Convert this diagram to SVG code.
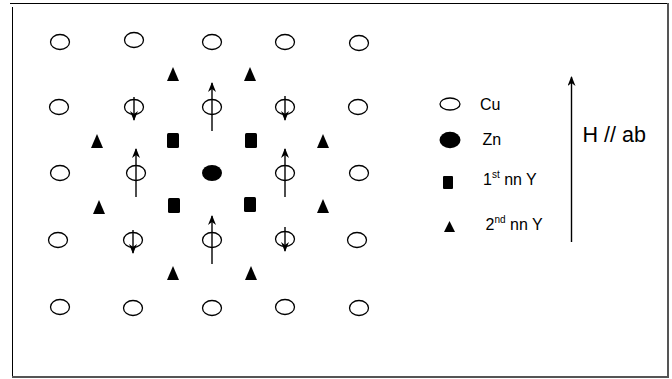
<svg xmlns="http://www.w3.org/2000/svg" width="672" height="379" viewBox="0 0 672 379">
<defs>
<style>
.cu{fill:#fff;stroke:#000;stroke-width:1.3}
.zn{fill:#000}
.sq{fill:#000}
.tri{fill:#000}
.sp{stroke:#000;stroke-width:1.4;fill:none}
.t{font-family:"Liberation Sans",Arial,sans-serif;fill:#000}
</style>
<marker id="ah" viewBox="0 0 10 8" refX="9" refY="4" markerWidth="10" markerHeight="8" markerUnits="userSpaceOnUse" orient="auto">
<path d="M0,0 L10,4 L0,8 L3,4 z" fill="#000"/>
</marker>
<symbol id="tr" overflow="visible"><path d="M0,-7 L6,7 L-6,7 z"/></symbol>
</defs>
<rect width="672" height="379" fill="#fff"/>
<g id="frame">
<line x1="10" y1="3.5" x2="668" y2="3.5" stroke="#000" stroke-width="1"/>
<line x1="12.5" y1="7" x2="12.5" y2="377" stroke="#000" stroke-width="1"/>
<line x1="668" y1="3" x2="668" y2="378" stroke="#555" stroke-width="2"/>
<line x1="12" y1="377" x2="669" y2="377" stroke="#555" stroke-width="2"/>
</g>
<g id="cu-atoms">
<ellipse class="cu" cx="60" cy="42" rx="9.5" ry="7.5"/>
<ellipse class="cu" cx="134" cy="40" rx="9.5" ry="7.5"/>
<ellipse class="cu" cx="212" cy="42" rx="9.5" ry="7.5"/>
<ellipse class="cu" cx="285" cy="42" rx="9.5" ry="7.5"/>
<ellipse class="cu" cx="359" cy="43" rx="9.5" ry="7.5"/>
<ellipse class="cu" cx="59" cy="107" rx="9.5" ry="7.5"/>
<ellipse class="cu" cx="134" cy="107" rx="9.5" ry="7.5"/>
<ellipse class="cu" cx="212" cy="107" rx="9.5" ry="7.5"/>
<ellipse class="cu" cx="285" cy="107" rx="9.5" ry="7.5"/>
<ellipse class="cu" cx="358" cy="107" rx="9.5" ry="7.5"/>
<ellipse class="cu" cx="60" cy="173" rx="9.5" ry="7.5"/>
<ellipse class="cu" cx="136" cy="173" rx="9.5" ry="7.5"/>
<ellipse class="cu" cx="285" cy="173" rx="9.5" ry="7.5"/>
<ellipse class="cu" cx="359" cy="173" rx="9.5" ry="7.5"/>
<ellipse class="cu" cx="58" cy="240" rx="9.5" ry="7.5"/>
<ellipse class="cu" cx="133" cy="240" rx="9.5" ry="7.5"/>
<ellipse class="cu" cx="212" cy="240" rx="9.5" ry="7.5"/>
<ellipse class="cu" cx="285" cy="239" rx="9.5" ry="7.5"/>
<ellipse class="cu" cx="357" cy="240" rx="9.5" ry="7.5"/>
<ellipse class="cu" cx="60" cy="307" rx="9.5" ry="7.5"/>
<ellipse class="cu" cx="133" cy="308" rx="9.5" ry="7.5"/>
<ellipse class="cu" cx="212" cy="308" rx="9.5" ry="7.5"/>
<ellipse class="cu" cx="285" cy="307" rx="9.5" ry="7.5"/>
<ellipse class="cu" cx="359" cy="308" rx="9.5" ry="7.5"/>
</g>
<g id="zn-atom">
<ellipse class="zn" cx="212" cy="173" rx="10" ry="8"/>
</g>
<g id="nn1-y">
<rect class="sq" x="167" y="133" width="12" height="15" rx="1.5"/>
<rect class="sq" x="245" y="133" width="12" height="15" rx="1.5"/>
<rect class="sq" x="168" y="198" width="12" height="15" rx="1.5"/>
<rect class="sq" x="244" y="197" width="12" height="15" rx="1.5"/>
</g>
<g id="nn2-y" class="tri">
<use href="#tr" x="173" y="74"/>
<use href="#tr" x="250" y="74"/>
<use href="#tr" x="97" y="141"/>
<use href="#tr" x="323" y="141"/>
<use href="#tr" x="99" y="207"/>
<use href="#tr" x="323" y="206"/>
<use href="#tr" x="173" y="273"/>
<use href="#tr" x="251" y="273"/>
</g>
<g id="spins">
<line class="sp" x1="134" y1="97" x2="134" y2="120" marker-end="url(#ah)"/>
<line class="sp" x1="212" y1="131" x2="212" y2="83" marker-end="url(#ah)"/>
<line class="sp" x1="285" y1="96" x2="285" y2="120" marker-end="url(#ah)"/>
<line class="sp" x1="136" y1="197" x2="136" y2="149" marker-end="url(#ah)"/>
<line class="sp" x1="285" y1="197" x2="285" y2="149" marker-end="url(#ah)"/>
<line class="sp" x1="133" y1="230" x2="133" y2="253" marker-end="url(#ah)"/>
<line class="sp" x1="212" y1="264" x2="212" y2="216" marker-end="url(#ah)"/>
<line class="sp" x1="285" y1="227" x2="285" y2="251" marker-end="url(#ah)"/>
</g>
<g id="legend">
<ellipse class="cu" cx="450" cy="104" rx="10" ry="6"/>
<text class="t" x="480" y="109.5" font-size="16">Cu</text>
<ellipse class="zn" cx="450" cy="140" rx="10.5" ry="8.3"/>
<text class="t" x="482.5" y="144.5" font-size="16">Zn</text>
<rect class="sq" x="443" y="176" width="10" height="13" rx="1"/>
<text class="t" x="483" y="184.5" font-size="16">1<tspan font-size="10" dy="-6.5">st</tspan><tspan dy="6.5"> nn Y</tspan></text>
<path class="tri" d="M449.5,221 L455,232 L444,232 z"/>
<text class="t" x="485.5" y="229.5" font-size="16">2<tspan font-size="10" dy="-6.5">nd</tspan><tspan dy="6.5"> nn Y</tspan></text>
</g>
<g id="field">
<line class="sp" x1="571.5" y1="242" x2="571.5" y2="77" stroke="#333" marker-end="url(#ah)"/>
<text class="t" x="582.5" y="141.7" font-size="21.5">H // ab</text>
</g>
</svg>
